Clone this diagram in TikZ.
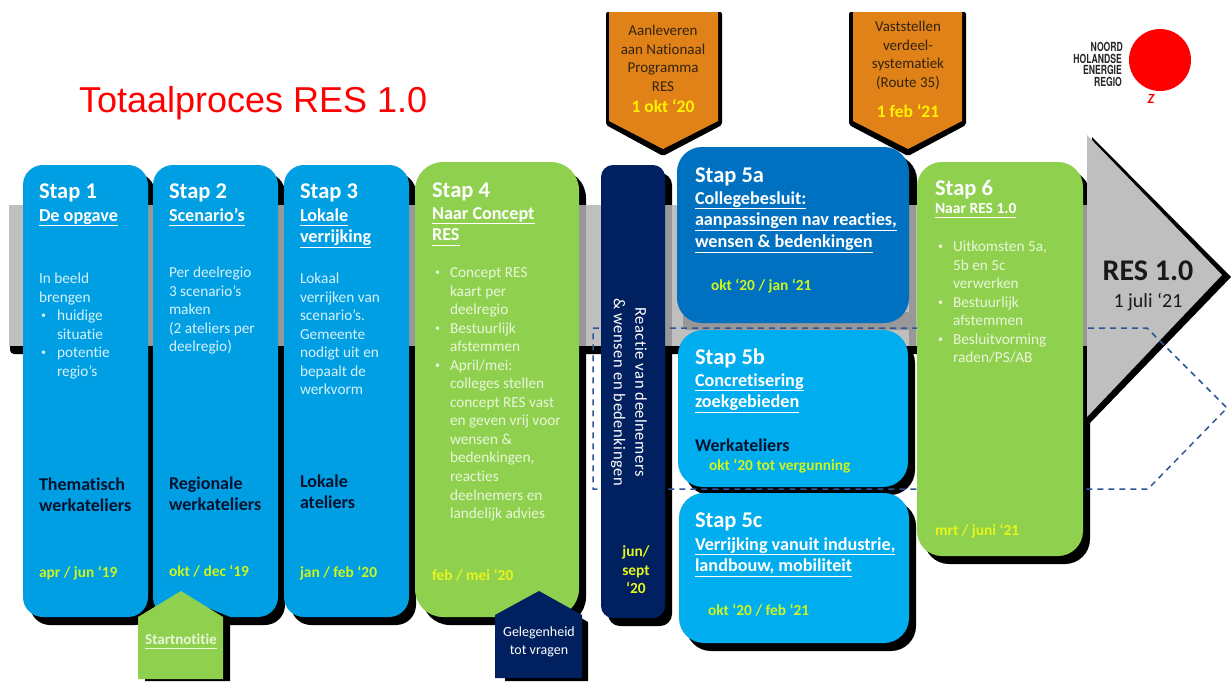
\documentclass[tikz,border=0pt]{standalone}
\usepackage{fontspec}
\setmainfont[Ligatures={NoCommon}]{Carlito}
\newfontfamily\arialf{Liberation Sans}
\newfontfamily\logof{TeX Gyre Heros}
\definecolor{stepblue}{HTML}{009FE3}
\definecolor{lightblue}{HTML}{00ADEF}
\definecolor{darkblue}{HTML}{0070C0}
\definecolor{navy}{HTML}{002060}
\definecolor{stepgreen}{HTML}{8FD14F}
\definecolor{amber}{HTML}{E08218}
\definecolor{bandgray}{HTML}{BFBFBF}
\definecolor{bandshade}{HTML}{989898}
\definecolor{dashblue}{HTML}{2F5597}
\definecolor{bodyblue}{HTML}{D6F1FB}
\definecolor{bodygreen}{HTML}{E9F6DA}
\definecolor{dateyellow}{HTML}{CDF51E}
\definecolor{dategreen}{HTML}{E4F41C}
\definecolor{inkdark}{HTML}{03122E}
\definecolor{inkbrown}{HTML}{33230F}
\definecolor{logored}{HTML}{FF0000}
\newcommand{\ulx}[1]{\underline{\vphantom{g}#1}}
\newcommand{\smallbul}{\raisebox{.12em}{\scalebox{.65}{\textbullet}}}
\newcommand{\bul}{\makebox[15pt][l]{\smallbul}}
\newcommand{\ind}{\hspace*{15pt}}
\newcommand{\bulw}{\makebox[18pt][l]{\hspace{2pt}\smallbul}}
\newcommand{\indw}{\hspace*{18pt}}
\newcommand{\cardshadow}[5]{\fill[black,rounded corners=#5] ({#1+7},{#2+8}) rectangle ({#3+7},{#4+8});}
\newcommand{\bandstrip}[1]{\fill[bandshade] (#1,205) rectangle ({#1+7},346);}
\newcommand{\card}[6]{\fill[#6,rounded corners=#5] (#1,#2) rectangle (#3,#4);}
\tikzset{
  txt/.style={inner sep=0pt,outer sep=0pt,anchor=north west,align=left},
  steptitle/.style={txt,yshift=10.7pt,text=white,font=\fontsize{22.5}{26}\selectfont\bfseries},
  stepsub/.style={txt,yshift=10pt,text=white,font=\fontsize{18.2}{21.7}\selectfont\bfseries},
  stepsubsmall/.style={txt,yshift=9pt,text=white,font=\fontsize{15.5}{18.6}\selectfont\bfseries},
  bodyb/.style={txt,yshift=8.5pt,text=bodyblue,font=\fontsize{15.3}{18.55}\selectfont},
  bodyg/.style={txt,yshift=8.5pt,text=bodygreen,font=\fontsize{15.3}{18.55}\selectfont},
  boldink/.style={txt,yshift=10pt,text=inkdark,font=\fontsize{18}{21.5}\selectfont\bfseries},
  dateb/.style={txt,yshift=8.5pt,text=dateyellow,font=\fontsize{15.4}{18.55}\selectfont\bfseries},
  dateg/.style={txt,yshift=8.5pt,text=dategreen,font=\fontsize{15.4}{18.55}\selectfont\bfseries},
  ambertxt/.style={txt,anchor=north,align=center,yshift=8.5pt,text=inkbrown,font=\fontsize{15}{18.55}\selectfont},
  amberdate/.style={txt,anchor=north,align=center,yshift=9pt,text=yellow,font=\fontsize{17.5}{20}\selectfont\bfseries},
  logotxt/.style={inner sep=0pt,anchor=east,xscale=.69,font=\logof\fontsize{12.5}{12.5}\selectfont\bfseries,text=black!85},
}
\begin{document}
\begin{tikzpicture}[x=1pt,y=-1pt]
\useasboundingbox (0,0) rectangle (1231,681);
\fill[white] (0,0) rectangle (1231,681);

% shadows (black where they lie outside the band)
\cardshadow{23}{165}{148}{617}{20}
\cardshadow{153}{165}{278}{617}{20}
\cardshadow{284}{165}{409}{617}{20}
\cardshadow{415}{162}{579}{617}{28}
\cardshadow{601}{165}{665}{618}{12}
\cardshadow{678}{330}{908}{487}{25}
\cardshadow{679}{493}{909}{643}{25}
\cardshadow{917}{162}{1083}{556}{25}
\fill[black,rounded corners=25] (685,155) rectangle (917,331);

% band
\fill[black,rounded corners=4] (10,330) rectangle (1090,354);
\fill[bandgray] (9,205) rectangle (1090,346);
\bandstrip{148}\bandstrip{278}\bandstrip{409}\bandstrip{579}\bandstrip{665}\bandstrip{909}\bandstrip{1083}
\fill[bandshade,rounded corners=4] (683,312) rectangle (916,330);

% arrow head
\fill[black] (1092,137) -- (1231,277) -- (1090,423) -- cycle;
\fill[bandgray] (1087,135) -- (1222,275) -- (1087,417) -- cycle;

% dashed outline
\draw[dashblue,line width=1.5pt,dash pattern=on 6pt off 5pt] (593,328) -- (1147,328) -- (1227,408) -- (1148,489) -- (593,489) -- cycle;

% orange callouts
\fill[black,rounded corners=2] (606,12) -- (722,12) -- (722,125) -- (663,156) -- (606,125) -- cycle;
\fill[amber] (609,12) -- (718,12) -- (718,121) -- (663,149) -- (609,121) -- cycle;
\fill[black,rounded corners=2] (849,12) -- (966,12) -- (966,125) -- (908,156) -- (849,125) -- cycle;
\fill[amber] (853,12) -- (962,12) -- (962,121) -- (908,149) -- (853,121) -- cycle;

% cards
\card{23}{165}{148}{617}{20}{stepblue}
\card{153}{165}{278}{617}{20}{stepblue}
\card{284}{165}{409}{617}{20}{stepblue}
\card{415}{162}{579}{617}{28}{stepgreen}
\card{601}{165}{665}{618}{12}{navy}
\card{677}{147}{909}{323}{25}{darkblue}
\card{678}{330}{908}{487}{25}{lightblue}
\card{679}{493}{909}{643}{25}{lightblue}
\card{917}{162}{1083}{556}{25}{stepgreen}

% house shapes
\fill[black] (145,617) -- (181,597) -- (230,617) -- (230,681) -- (145,681) -- cycle;
\fill[stepgreen] (181,591) -- (223,617) -- (223,679) -- (138,679) -- (138,617) -- cycle;
\fill[black] (505,622) -- (545,597) -- (588,622) -- (588,681) -- (505,681) -- cycle;
\fill[navy] (539,591) -- (582,615) -- (582,678) -- (495,678) -- (495,615) -- cycle;

% title
\node[inner sep=0pt,anchor=west,text=logored,draw=logored,line width=.25pt,font=\arialf\fontsize{36}{40}\selectfont,draw opacity=0] (title) at (79,103) {Totaalproces RES 1.0};

% logo
\fill[logored] (1160,60) circle (31);
\node[logotxt] (logoa) at (1123,47) {NOORD};
\node[logotxt] (logob) at (1122,59) {HOLANDSE};
\node[logotxt] (logoc) at (1122,70) {ENERGIE};
\node[logotxt] (logod) at (1122,82) {REGIO};
\node[inner sep=0pt,text=logored,font=\fontsize{14}{14}\selectfont\itshape\bfseries] (logoz) at (1151,99) {Z};

% step 1
\node[steptitle] (s1t) at (39,191) {\strut Stap 1};
\node[stepsub] (s1s) at (39,216) {\strut\ulx{De opgave}};
\node[bodyb] (s1b) at (39,279) {\strut In beeld\\brengen\\\bulw huidige\\\indw situatie\\\bulw potentie\\\indw regio’s};
\node[boldink] (s1k) at (39,485) {\strut Thematisch\\werkateliers};
\node[dateb] (s1d) at (39,573) {\strut apr / jun ‘19};
% step 2
\node[steptitle] (s2t) at (169,191) {\strut Stap 2};
\node[stepsub] (s2s) at (169,216) {\strut\ulx{Scenario’s}};
\node[bodyb] (s2b) at (169,273) {\strut Per deelregio\\3 scenario’s\\maken\\(2 ateliers per\\deelregio)};
\node[boldink] (s2k) at (169,484) {\strut Regionale\\werkateliers};
\node[dateb] (s2d) at (169,572) {\strut okt / dec ‘19};
% step 3
\node[steptitle] (s3t) at (300,191) {\strut Stap 3};
\node[stepsub] (s3s) at (300,216) {\strut\ulx{Lokale}\\\ulx{verrijking}};
\node[bodyb] (s3b) at (300,279) {\strut Lokaal\\verrijken van\\scenario’s.\\Gemeente\\nodigt uit en\\bepaalt de\\werkvorm};
\node[boldink] (s3k) at (300,482) {\strut Lokale\\ateliers};
\node[dateb] (s3d) at (300,573) {\strut jan / feb ‘20};
% step 4
\node[steptitle] (s4t) at (432,190) {\strut Stap 4};
\node[stepsub] (s4s) at (432,214) {\strut\ulx{Naar Concept}\\\ulx{RES}};
\node[bodyg] (s4b) at (435,273) {\strut\bul Concept RES\\\ind kaart per\\\ind deelregio\\\bul Bestuurlijk\\\ind afstemmen\\\bul April/mei:\\\ind colleges stellen\\\ind concept RES vast\\\ind en geven vrij voor\\\ind wensen \&\\\ind bedenkingen,\\\ind reacties\\\ind deelnemers en\\\ind landelijk advies};
\node[dateg] (s4d) at (432,576) {\strut feb / mei ‘20};
% navy reaction column
\node[inner sep=0pt,rotate=-90,align=center,text=white,font=\fontsize{16.5}{21.5}\selectfont\addfontfeature{LetterSpace=3}] (react) at (629,392) {Reactie van deelnemers\\\& wensen en bedenkingen};
\node[txt,anchor=north,align=center,yshift=8.5pt,text=dategreen,font=\fontsize{15.4}{18.55}\selectfont\bfseries] (reactd) at (636,552) {\strut jun/\\sept\\‘20};
% step 5a
\node[steptitle] (s5at) at (695,175) {\strut Stap 5a};
\node[stepsub] (s5as) at (695,199) {\strut\ulx{Collegebesluit:}\\\ulx{aanpassingen nav reacties,}\\\ulx{wensen \& bedenkingen}};
\node[dateb] (s5ad) at (711,286) {\strut okt ‘20 / jan ‘21};
% step 5b
\node[steptitle] (s5bt) at (695,357) {\strut Stap 5b};
\node[stepsub] (s5bs) at (695,381) {\strut\ulx{Concretisering}\\\ulx{zoekgebieden}};
\node[boldink] (s5bk) at (695,446) {\strut Werkateliers};
\node[dateb] (s5bd) at (709,466) {\strut okt ‘20 tot vergunning};
% step 5c
\node[steptitle] (s5ct) at (695,520) {\strut Stap 5c};
\node[stepsub] (s5cs) at (695,545) {\strut\ulx{Verrijking vanuit industrie,}\\\ulx{landbouw, mobiliteit}};
\node[dateb] (s5cd) at (708,611) {\strut okt ‘20 / feb ‘21};
% step 6
\node[steptitle] (s6t) at (935,188) {\strut Stap 6};
\node[stepsubsmall] (s6s) at (935,209) {\strut\ulx{Naar RES 1.0}};
\node[bodyg] (s6b) at (938,247) {\strut\bul Uitkomsten 5a,\\\ind 5b en 5c\\\ind verwerken\\\bul Bestuurlijk\\\ind afstemmen\\\bul Besluitvorming\\\ind raden/PS/AB};
\node[dateg] (s6d) at (935,531) {\strut mrt / juni ‘21};
% result
\node[inner sep=0pt,text=black!90,font=\fontsize{30}{32}\selectfont\bfseries] (res) at (1148,271) {RES 1.0};
\node[inner sep=0pt,text=black!90,font=\fontsize{20}{22}\selectfont] (resd) at (1148,302) {1 juli ‘21};
% callout texts
\node[ambertxt] (a1) at (663,31) {\strut Aanleveren\\aan Nationaal\\Programma\\RES};
\node[amberdate] (a1d) at (663,107) {\strut 1 okt ‘20};
\node[ambertxt] (a2) at (908,27) {\strut Vaststellen\\verdeel-\\systematiek\\(Route 35)};
\node[amberdate] (a2d) at (908,112) {\strut 1 feb ‘21};
% house texts
\node[inner sep=0pt,text=bodygreen,font=\fontsize{15}{18}\selectfont\bfseries] (start) at (181,641) {\ulx{Startnotitie}};
\node[inner sep=0pt,align=center,text=white,font=\fontsize{14}{17.5}\selectfont] (gel) at (539,642) {Gelegenheid\\tot vragen};
\end{tikzpicture}
\end{document}
